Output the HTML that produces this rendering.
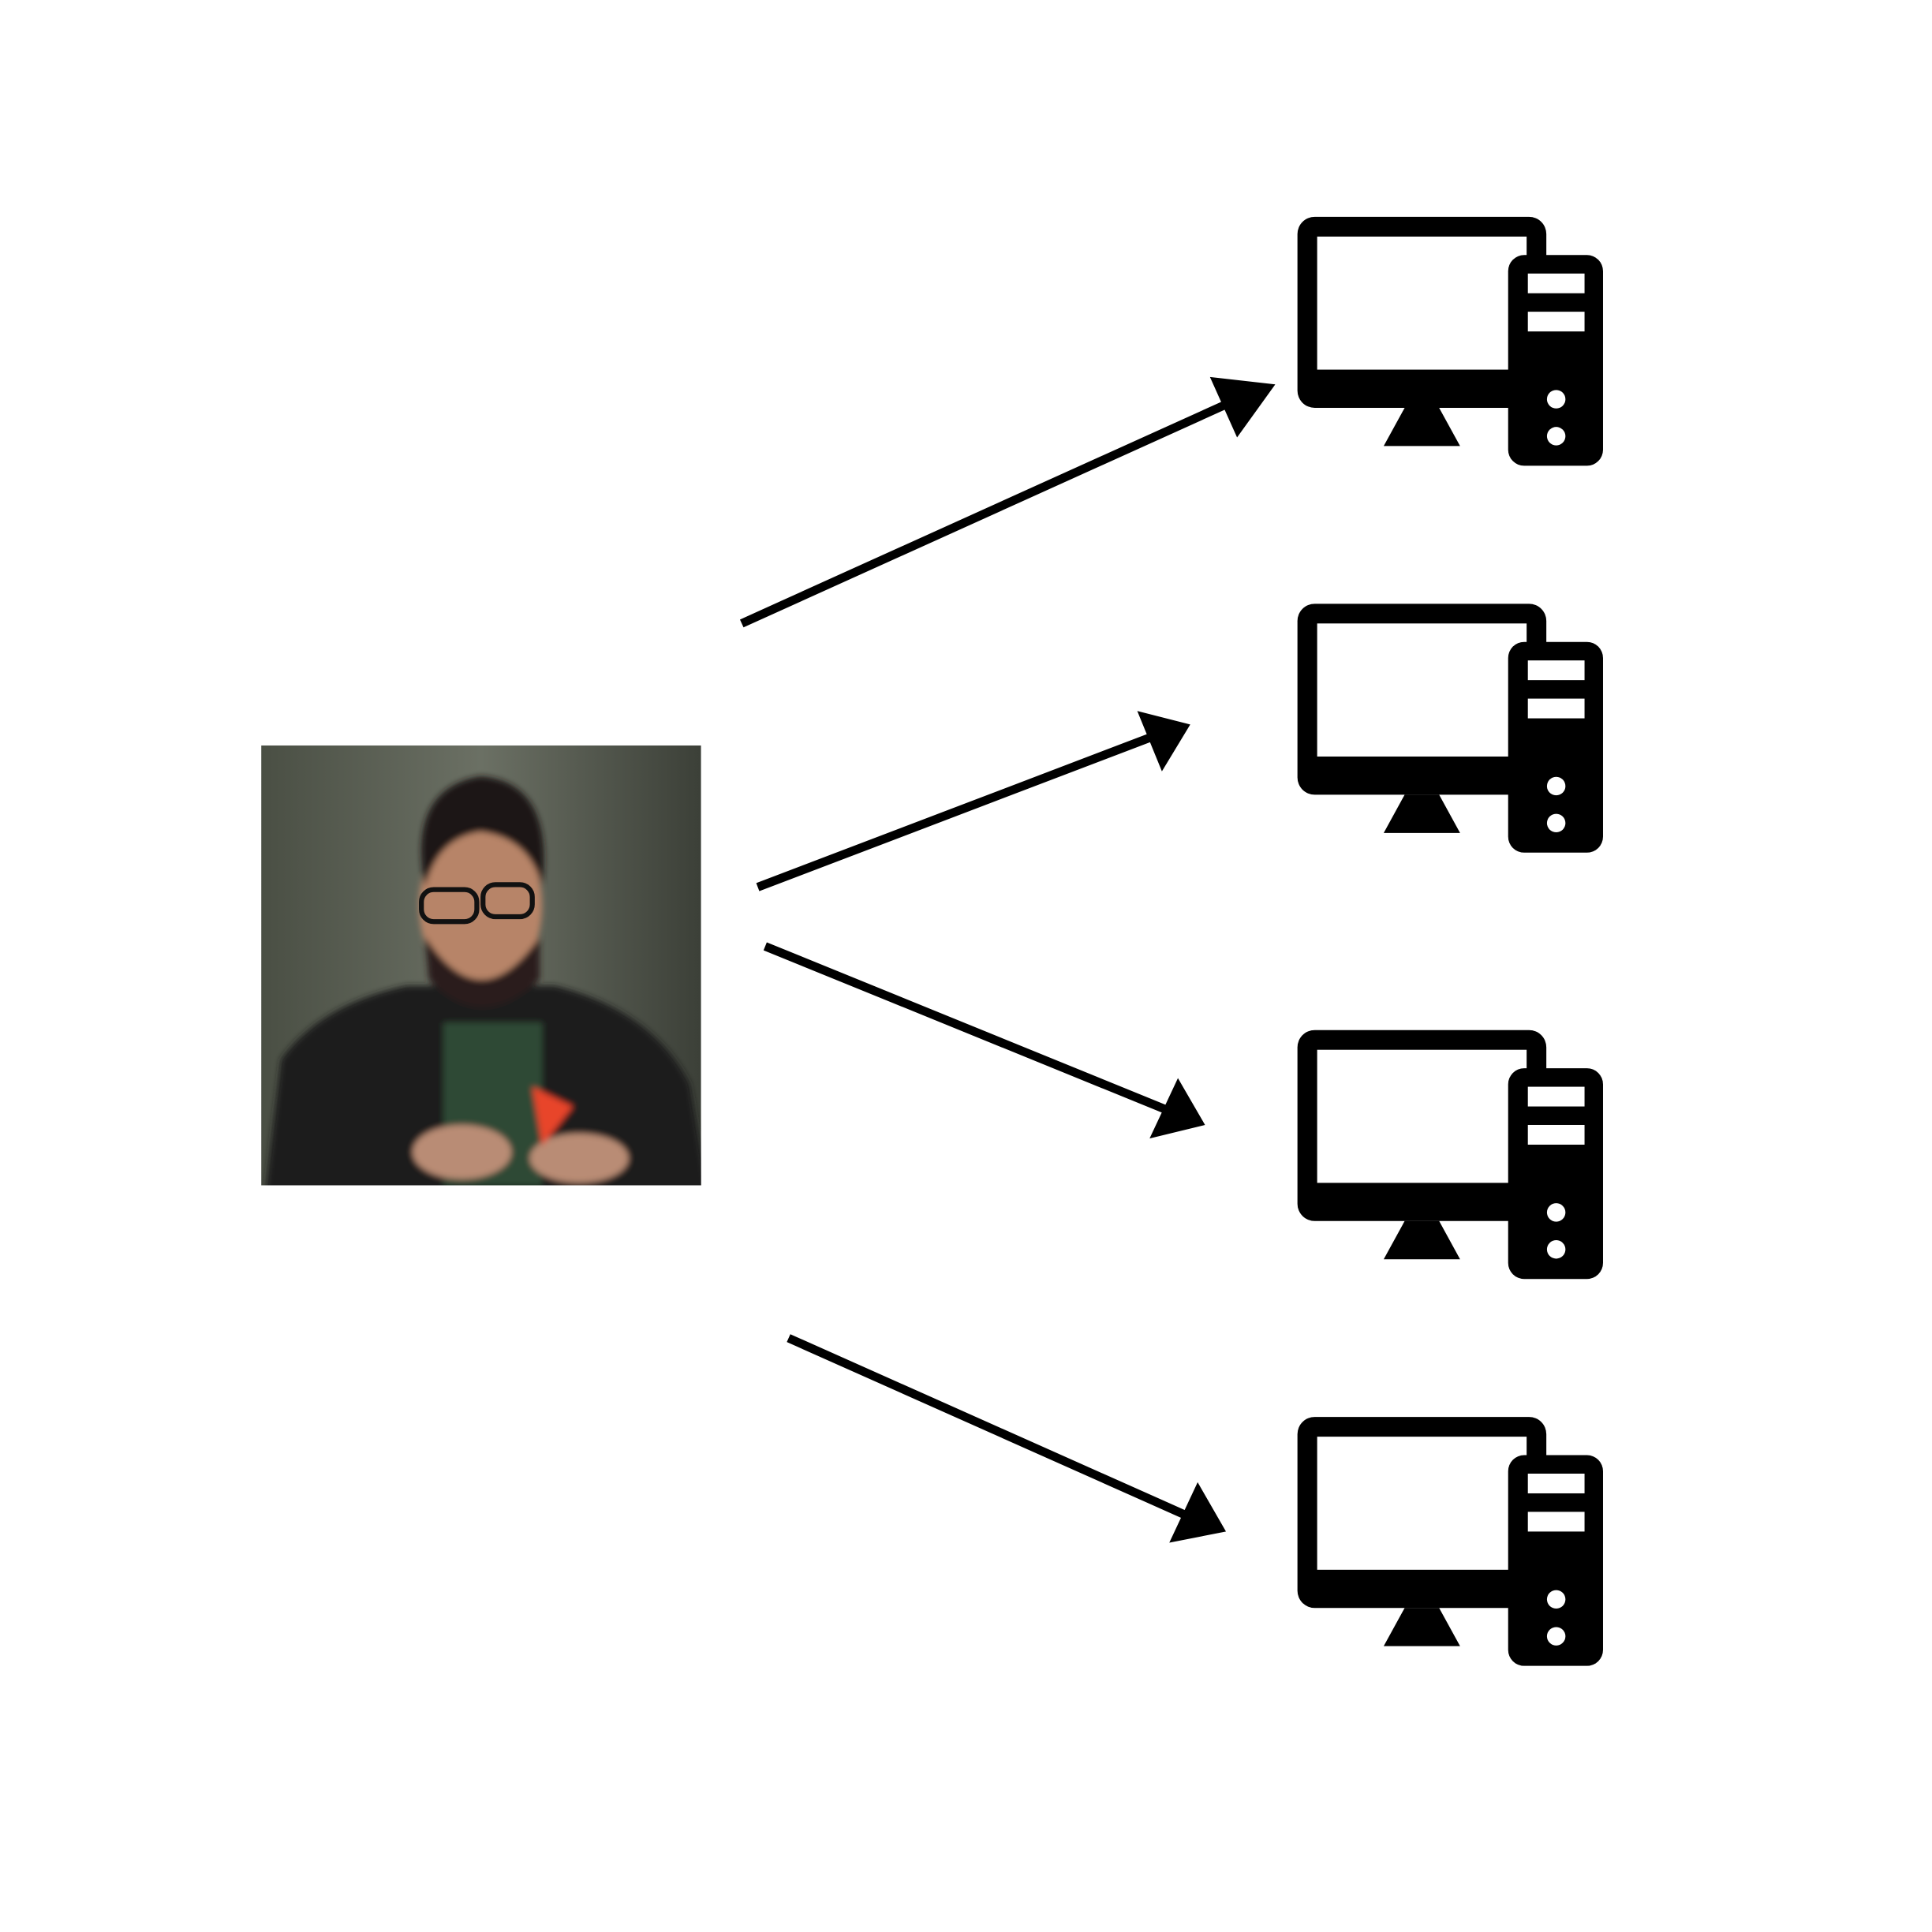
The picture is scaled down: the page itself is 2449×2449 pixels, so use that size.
<!DOCTYPE html>
<html><head><style>html,body{margin:0;padding:0;background:#fff}svg{display:block}</style></head>
<body>
<svg width="2449" height="2449" viewBox="0 0 1568 1568" xmlns="http://www.w3.org/2000/svg">
<defs>
<linearGradient id="bg" x1="0" y1="0" x2="1" y2="0">
<stop offset="0" stop-color="#4a4f44"/><stop offset="0.5" stop-color="#6b7064"/><stop offset="1" stop-color="#3c4038"/>
</linearGradient>
<filter id="bl"><feGaussianBlur stdDeviation="2.5"/></filter>
<clipPath id="pc-clip"><rect x="212" y="605" width="357" height="357"/></clipPath>
<g id="pc">
<rect x="1053" y="176" width="202" height="155" rx="14" fill="#000"/>
<rect x="1069" y="192" width="170" height="108" fill="#fff"/>
<rect x="1224" y="207" width="77" height="171" rx="13" fill="#000"/>
<rect x="1240" y="222" width="46" height="16" fill="#fff"/>
<rect x="1240" y="253" width="46" height="16" fill="#fff"/>
<circle cx="1263" cy="324" r="7.5" fill="#fff"/>
<circle cx="1263" cy="354" r="7.5" fill="#fff"/>
<polygon points="1140,331 1168,331 1185,362 1123,362" fill="#000"/>
</g>
</defs>
<rect width="1568" height="1568" fill="#fff"/>
<!-- photo -->
<g clip-path="url(#pc-clip)">
<rect x="212" y="605" width="357" height="357" fill="url(#bg)"/>
<g filter="url(#bl)">
<path d="M215,970 L228,860 Q260,815 330,800 L450,800 Q530,820 560,880 L575,970 Z" fill="#1c1b1d"/>
<path d="M360,830 L440,830 L440,962 L360,962 Z" fill="#2f4a36"/>
<ellipse cx="390" cy="735" rx="50" ry="70" fill="#b78468"/>
<path d="M345,720 Q330,640 390,630 Q450,635 440,720 Q430,680 390,675 Q355,680 345,720 Z" fill="#1b1613"/>
<path d="M345,760 Q390,830 438,760 L438,795 Q390,840 348,795 Z" fill="#2a1f1a"/>
<ellipse cx="375" cy="935" rx="40" ry="22" fill="#b98c74"/>
<ellipse cx="470" cy="940" rx="40" ry="20" fill="#b98c74"/>
<polygon points="432,882 465,898 440,930" fill="#e8442a"/>
</g>
<rect x="342" y="722" width="45" height="26" rx="10" fill="none" stroke="#111" stroke-width="4"/>
<rect x="392" y="718" width="40" height="26" rx="10" fill="none" stroke="#111" stroke-width="4"/>
</g>
<!-- computers -->
<use href="#pc"/>
<use href="#pc" y="314"/>
<use href="#pc" y="660"/>
<use href="#pc" y="974"/>
<!-- arrows -->
<g stroke="#000" stroke-width="7" fill="none">
<line x1="602" y1="506" x2="1000" y2="326"/>
<line x1="615" y1="720" x2="935" y2="598"/>
<line x1="621" y1="768" x2="945" y2="900"/>
<line x1="640" y1="1086" x2="963" y2="1230"/>
</g>
<g fill="#000">
<polygon points="1035,312 982,306 1004,355"/>
<polygon points="966,588 923,577 943,626"/>
<polygon points="978,913 933,924 956,875"/>
<polygon points="995,1243 949,1252 972,1203"/>
</g>
</svg>
</body></html>
